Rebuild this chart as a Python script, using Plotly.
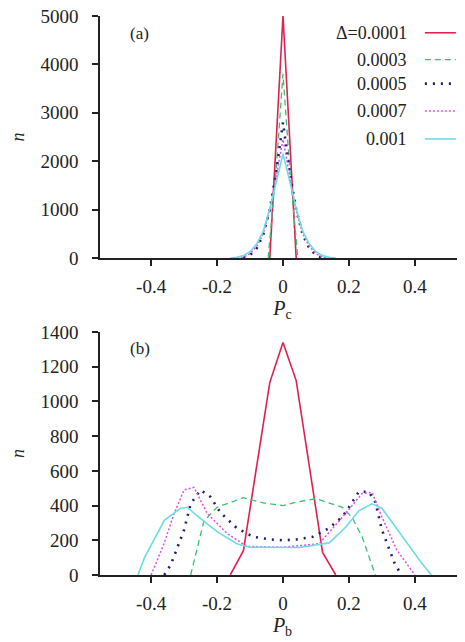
import plotly.graph_objects as go
from plotly.subplots import make_subplots

# ------------------------------------------------------------------
# Data (panel a: P_c, panel b: P_b)
# ------------------------------------------------------------------
labels = ["Δ=0.0001", "0.0003", "0.0005", "0.0007", "0.001"]

# panel (a)
a_x_0001 = [-0.04, 0.0, 0.04]
a_y_0001 = [0, 5000, 0]
a_x_0003 = [-0.045, -0.02, 0.0, 0.02, 0.045]
a_y_0003 = [0, 1900, 3800, 1900, 0]
a_x_0005 = [-0.12, -0.1, -0.08, -0.06, -0.04, -0.02, 0.0, 0.02, 0.04, 0.06, 0.08, 0.1, 0.12]
a_y_0005 = [0, 60, 200, 480, 1000, 1800, 2800, 1800, 1000, 480, 200, 60, 0]
a_x_0007 = [-0.14, -0.12, -0.1, -0.08, -0.06, -0.04, -0.02, 0.0, 0.02, 0.04, 0.06, 0.08, 0.1, 0.12, 0.14]
a_y_0007 = [0, 20, 90, 240, 500, 980, 1700, 2450, 1700, 980, 500, 240, 90, 20, 0]
a_x_001 = [-0.16, -0.14, -0.12, -0.1, -0.08, -0.06, -0.04, -0.02, 0.0,
           0.02, 0.04, 0.06, 0.08, 0.1, 0.12, 0.14, 0.16]
a_y_001 = [0, 15, 50, 130, 290, 550, 1020, 1600, 2150,
           1600, 1020, 550, 290, 130, 50, 15, 0]

# panel (b)
b_x_0001 = [-0.16, -0.12, -0.04, 0.0, 0.04, 0.12, 0.16]
b_y_0001 = [0, 140, 1110, 1340, 1120, 130, 0]
b_x_0003 = [-0.28, -0.24, -0.2, -0.12, -0.06, 0.0, 0.04, 0.1, 0.18, 0.21, 0.24, 0.28]
b_y_0003 = [0, 310, 390, 445, 415, 400, 420, 440, 390, 330, 220, 0]
b_x_0005 = [-0.36, -0.34, -0.3, -0.28, -0.25, -0.22, -0.19, -0.14, -0.09, -0.04, 0.0,
            0.04, 0.09, 0.14, 0.18, 0.2, 0.23, 0.26, 0.28, 0.3, 0.32, 0.34, 0.36]
b_y_0005 = [0, 60, 260, 410, 490, 450, 360, 270, 220, 205, 200,
            205, 220, 270, 335, 390, 480, 480, 420, 260, 160, 60, 0]
b_x_0007 = [-0.4, -0.36, -0.33, -0.3, -0.27, -0.23, -0.17, -0.11, 0.0,
            0.11, 0.19, 0.24, 0.27, 0.3, 0.345, 0.39, 0.4]
b_y_0007 = [0, 185, 355, 490, 505, 355, 240, 165, 160,
            180, 355, 470, 475, 335, 145, 30, 0]
b_x_001 = [-0.44, -0.42, -0.36, -0.31, -0.29, -0.26, -0.2, -0.14, -0.1, 0.0,
           0.05, 0.14, 0.19, 0.23, 0.27, 0.3, 0.34, 0.375, 0.42, 0.45]
b_y_001 = [0, 100, 315, 385, 390, 340, 250, 180, 160, 160,
           158, 185, 275, 370, 410, 385, 280, 185, 70, 0]

panel_a = [(a_x_0001, a_y_0001), (a_x_0003, a_y_0003), (a_x_0005, a_y_0005),
           (a_x_0007, a_y_0007), (a_x_001, a_y_001)]
panel_b = [(b_x_0001, b_y_0001), (b_x_0003, b_y_0003), (b_x_0005, b_y_0005),
           (b_x_0007, b_y_0007), (b_x_001, b_y_001)]

styles = [
    dict(color="#e0204e", width=1.6, dash="solid"),
    dict(color="#3cc070", width=1.3, dash="6px,4px"),
    dict(color="#1c1c78", width=2.6, dash="2px,6px"),
    dict(color="#e050e0", width=1.5, dash="2px,2px"),
    dict(color="#6cdce4", width=1.6, dash="solid"),
]

FONT = "Liberation Serif"

fig = make_subplots(rows=2, cols=1)

for (x, y), st in zip(panel_a, styles):
    fig.add_trace(go.Scatter(x=x, y=y, mode="lines", line=st, showlegend=False), row=1, col=1)
for (x, y), st in zip(panel_b, styles):
    fig.add_trace(go.Scatter(x=x, y=y, mode="lines", line=st, showlegend=False), row=2, col=1)

axis_common = dict(
    showgrid=False, zeroline=False, showline=True, linecolor="#222", linewidth=1.5,
    ticks="outside", ticklen=6, tickcolor="#222", tickwidth=1.5, automargin=False,
    ticklabeloverflow="allow",
    tickfont=dict(family=FONT, size=19, color="#222"),
)
xticks = [-0.4, -0.2, 0, 0.2, 0.4]
xtick_text = ["-0.4", "-0.2", "0", "0.2", "0.4"]

fig.update_xaxes(range=[-0.555, 0.552], tickvals=xticks, ticktext=xtick_text, **axis_common)
fig.update_yaxes(ticklabelstandoff=10, **axis_common)

# page body adds an 8px offset, margins account for it
fig.update_layout(
    width=465, height=642,
    margin=dict(l=92, r=8, t=8, b=75),
    plot_bgcolor="white", paper_bgcolor="white",
    showlegend=False,
    xaxis=dict(domain=[0, 1], anchor="y", ticklabelstandoff=4,
               title=dict(text="<i>P</i><sub>c</sub>", font=dict(family=FONT, size=20, color="#222"),
                          standoff=0)),
    yaxis=dict(domain=[0.567, 1.0], range=[0, 5000], tickvals=[0, 1000, 2000, 3000, 4000, 5000],
               title=dict(text="<i>n</i>", font=dict(family=FONT, size=18, color="#222"), standoff=18)),
    xaxis2=dict(domain=[0, 1], anchor="y2", ticklabelstandoff=4,
                title=dict(text="<i>P</i><sub>b</sub>", font=dict(family=FONT, size=20, color="#222"),
                           standoff=0)),
    yaxis2=dict(domain=[0.0, 0.4347], range=[0, 1400],
                tickvals=[0, 200, 400, 600, 800, 1000, 1200, 1400],
                title=dict(text="<i>n</i>", font=dict(family=FONT, size=18, color="#222"), standoff=18)),
)

# panel labels
fig.add_annotation(text="(a)", x=0.107, y=0.968, xref="paper", yref="paper", showarrow=False,
                   xanchor="center", yanchor="middle",
                   font=dict(family=FONT, size=17, color="#222"))
fig.add_annotation(text="(b)", x=0.11, y=0.405, xref="paper", yref="paper", showarrow=False,
                   xanchor="center", yanchor="middle",
                   font=dict(family=FONT, size=17, color="#222"))

# gnuplot-style key: text on the left, line sample on the right
key_rows = [0.970, 0.922, 0.879, 0.830, 0.780]
for lab, st, ky in zip(labels, styles, key_rows):
    fig.add_annotation(text=lab, x=0.847, y=ky, xref="paper", yref="paper", showarrow=False,
                       xanchor="right", yanchor="middle",
                       font=dict(family=FONT, size=18, color="#222"))
    fig.add_shape(type="line", xref="paper", yref="paper", x0=0.89, x1=0.975, y0=ky, y1=ky,
                  line=st)

fig.write_html("out.html")
